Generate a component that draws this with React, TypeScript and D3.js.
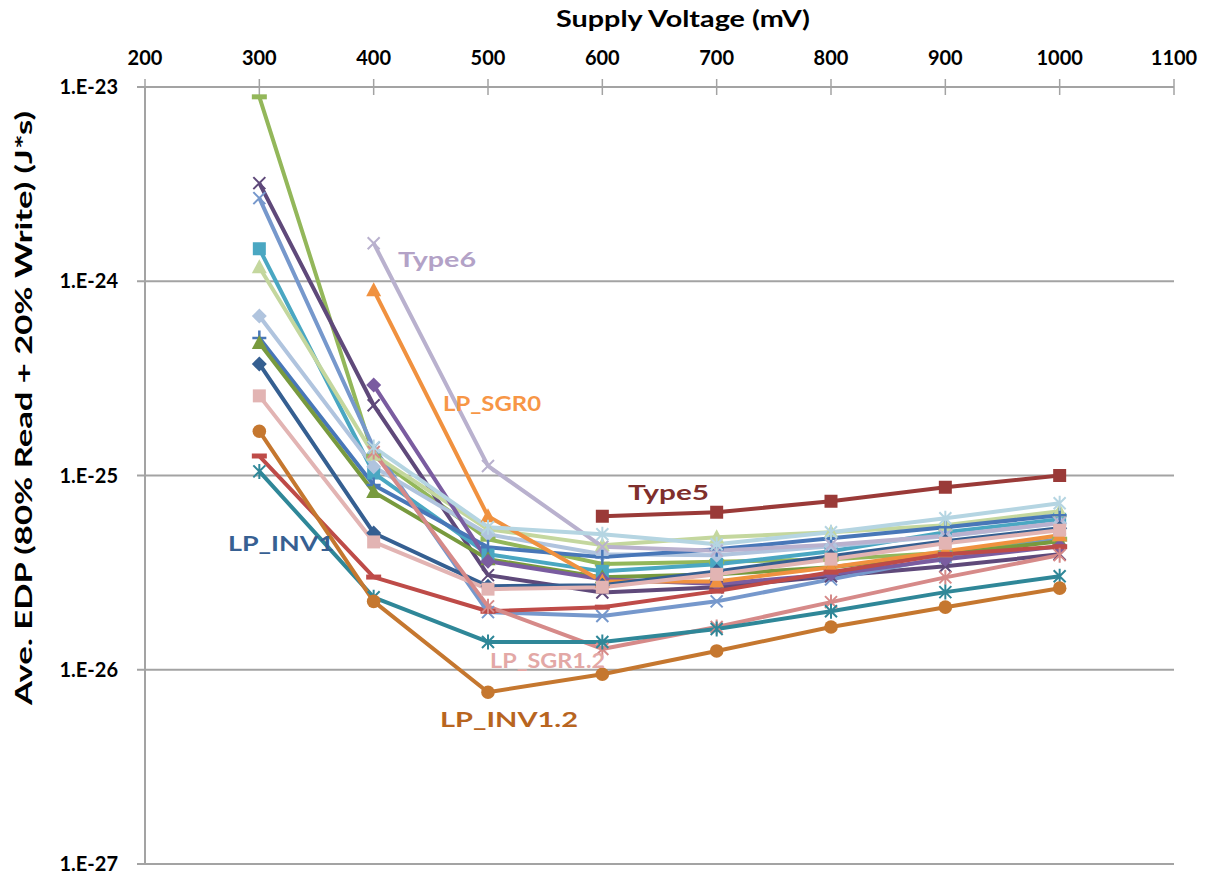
import React from 'react';
import * as d3 from 'd3';

// Supply voltage sweep (mV)
const voltages = [300, 400, 500, 600, 700, 800, 900, 1000];
const xTickValues = [200, 300, 400, 500, 600, 700, 800, 900, 1000, 1100];
const yTickValues = [1e-23, 1e-24, 1e-25, 1e-26, 1e-27];
const yTickLabels = ['1.E-23', '1.E-24', '1.E-25', '1.E-26', '1.E-27'];

// Average EDP (J*s) per cell type; null = no valid operating point
const oliveDash = [8.9e-24, 1.26e-25, 4.7e-26, 3.5e-26, 3.6e-26, 3.7e-26, 4.0e-26, 4.7e-26];
const darkPurpleX = [3.2e-24, 2.3e-25, 3.07e-26, 2.5e-26, 2.66e-26, 3.03e-26, 3.41e-26, 3.93e-26];
const mediumBlueX = [2.68e-24, 1.39e-25, 1.98e-26, 1.89e-26, 2.25e-26, 2.92e-26, 3.8e-26, 4.7e-26];
const aquaSquare = [1.47e-24, 1.03e-25, 3.93e-26, 3.21e-26, 3.49e-26, 4.07e-26, 5.1e-26, 5.95e-26];
const lightGreenTri = [1.18e-24, 1.28e-25, 5.29e-26, 4.38e-26, 4.81e-26, 5.1e-26, 5.55e-26, 6.55e-26];
const lightBlueDiamond = [6.62e-25, 1.11e-25, 4.98e-26, 3.93e-26, 3.89e-26, 4.32e-26, 4.87e-26, 5.68e-26];
const bluePlus = [5.1e-25, 8.94e-26, 4.27e-26, 3.8e-26, 4.17e-26, 4.75e-26, 5.42e-26, 6.24e-26];
const darkGreenTri = [4.81e-25, 8.22e-26, 3.71e-26, 2.99e-26, 3.1e-26, 3.37e-26, 3.93e-26, 4.59e-26];
const lpInv1 = [3.75e-25, 5.06e-26, 2.69e-26, 2.72e-26, 3.21e-26, 3.84e-26, 4.59e-26, 5.35e-26];
const pinkSquare = [2.57e-25, 4.55e-26, 2.6e-26, 2.66e-26, 3.1e-26, 3.71e-26, 4.48e-26, 5.23e-26];
const lpInv12 = [1.69e-25, 2.25e-26, 7.66e-27, 9.48e-27, 1.25e-26, 1.66e-26, 2.1e-26, 2.63e-26];
const redDash = [1.26e-25, 3.0e-26, 2.0e-26, 2.1e-26, 2.54e-26, 3.18e-26, 3.93e-26, 4.3e-26];
const tealStar = [1.05e-25, 2.36e-26, 1.39e-26, 1.39e-26, 1.62e-26, 2.0e-26, 2.51e-26, 3.03e-26];
const type6 = [null, 1.57e-24, 1.12e-25, 4.3e-26, 4.1e-26, 4.4e-26, 4.9e-26, 5.7e-26];
const lpSgr0 = [null, 9.0e-25, 6.17e-26, 2.85e-26, 2.85e-26, 3.37e-26, 4.07e-26, 4.92e-26];
const purpleDiamond = [null, 2.92e-25, 3.62e-26, 2.92e-26, 2.76e-26, 3.1e-26, 3.71e-26, 4.32e-26];
const lpSgr12 = [null, 1.32e-25, 2.12e-26, 1.28e-26, 1.66e-26, 2.23e-26, 2.99e-26, 3.89e-26];
const paleBlueStar = [null, 1.4e-25, 5.42e-26, 4.98e-26, 4.43e-26, 5.1e-26, 6.02e-26, 7.2e-26];
const type5 = [null, null, null, 6.17e-26, 6.47e-26, 7.37e-26, 8.7e-26, 1.0e-25];

type Marker = 'diamond' | 'square' | 'triangle' | 'circle' | 'x' | 'star' | 'plus' | 'dash';
interface Series { key: string; values: (number | null)[]; color: string; marker: Marker; }

const series: Series[] = [
  { key: 'oliveDash', values: oliveDash, color: '#93B75A', marker: 'dash' },
  { key: 'darkPurpleX', values: darkPurpleX, color: '#5F497A', marker: 'x' },
  { key: 'mediumBlueX', values: mediumBlueX, color: '#7698CC', marker: 'x' },
  { key: 'aquaSquare', values: aquaSquare, color: '#4AA7C2', marker: 'square' },
  { key: 'lightGreenTri', values: lightGreenTri, color: '#C4D79E', marker: 'triangle' },
  { key: 'lightBlueDiamond', values: lightBlueDiamond, color: '#B0C4DE', marker: 'diamond' },
  { key: 'bluePlus', values: bluePlus, color: '#4877B8', marker: 'plus' },
  { key: 'darkGreenTri', values: darkGreenTri, color: '#789A3E', marker: 'triangle' },
  { key: 'purpleDiamond', values: purpleDiamond, color: '#7A5CA0', marker: 'diamond' },
  { key: 'type6', values: type6, color: '#B9B1CE', marker: 'x' },
  { key: 'lpSgr0', values: lpSgr0, color: '#F0913F', marker: 'triangle' },
  { key: 'lpInv1', values: lpInv1, color: '#355F91', marker: 'diamond' },
  { key: 'pinkSquare', values: pinkSquare, color: '#E2B4B3', marker: 'square' },
  { key: 'redDash', values: redDash, color: '#BE4B48', marker: 'dash' },
  { key: 'lpSgr12', values: lpSgr12, color: '#D68A89', marker: 'star' },
  { key: 'tealStar', values: tealStar, color: '#2F8798', marker: 'star' },
  { key: 'lpInv12', values: lpInv12, color: '#C5772F', marker: 'circle' },
  { key: 'paleBlueStar', values: paleBlueStar, color: '#B5D5E2', marker: 'star' },
  { key: 'type5', values: type5, color: '#9A3A38', marker: 'square' },
];

// In-plot series callouts
const callouts = [
  { text: 'Type6', color: '#B3A2C7', x: 398, y: 267, w: 78 },
  { text: 'LP_SGR0', color: '#F79646', x: 443, y: 411, w: 98 },
  { text: 'Type5', color: '#7F2F2C', x: 628, y: 500, w: 81 },
  { text: 'LP_INV1', color: '#376092', x: 228, y: 551, w: 106 },
  { text: 'LP_SGR1.2', color: '#E3A8A6', x: 490, y: 668, w: 115 },
  { text: 'LP_INV1.2', color: '#B8651F', x: 440, y: 727, w: 138 },
];

const FONT = 'Lato, "Open Sans", sans-serif';

function MarkerShape({ type, color }: { type: Marker; color: string }) {
  switch (type) {
    case 'diamond':
      return <path d="M0,-7.5L7.5,0L0,7.5L-7.5,0Z" fill={color} />;
    case 'square':
      return <rect x={-6.5} y={-6.5} width={13} height={13} fill={color} />;
    case 'triangle':
      return <path d="M0,-8L7.5,6L-7.5,6Z" fill={color} />;
    case 'circle':
      return <circle r={6.8} fill={color} />;
    case 'x':
      return <path d="M-6,-6L6,6M-6,6L6,-6" stroke={color} strokeWidth={2} fill="none" />;
    case 'star':
      return <path d="M-6,-6L6,6M-6,6L6,-6M0,-7.5L0,7.5" stroke={color} strokeWidth={2} fill="none" />;
    case 'plus':
      return <path d="M-7,0L7,0M0,-7.5L0,7.5" stroke={color} strokeWidth={2.5} fill="none" />;
    case 'dash':
      return <rect x={-7.5} y={-2.5} width={15} height={5} fill={color} />;
  }
}

export default function App() {
  const width = 1215;
  const height = 878;
  const left = 145, right = 1174, top = 87, bottom = 864;

  const x = d3.scaleLinear().domain([200, 1100]).range([left, right]);
  const y = d3.scaleLog().domain([1e-23, 1e-27]).range([top, bottom]);

  const line = d3
    .line<[number, number | null]>()
    .defined((d) => d[1] != null)
    .x((d) => x(d[0]))
    .y((d) => y(d[1] as number));

  const gridColor = '#A3A3A3';

  return (
    <svg
      width={width}
      height={height}
      style={{ position: 'absolute', left: 0, top: 0, background: '#fff' }}
      fontFamily={FONT}
    >
      <rect width={width} height={height} fill="#fff" />

      {/* horizontal decade gridlines */}
      {yTickValues.map((v) => (
        <line key={'g' + v} x1={left} x2={right} y1={y(v)} y2={y(v)} stroke={gridColor} strokeWidth={2} />
      ))}
      {/* left axis */}
      <line x1={left} x2={left} y1={top} y2={bottom} stroke={gridColor} strokeWidth={2} />
      {yTickValues.map((v) => (
        <line key={'yt' + v} x1={left - 8} x2={left} y1={y(v)} y2={y(v)} stroke={gridColor} strokeWidth={2} />
      ))}
      {/* top axis ticks */}
      {xTickValues.map((v) => (
        <line key={'xt' + v} x1={x(v)} x2={x(v)} y1={top - 8} y2={top + 8} stroke={gridColor} strokeWidth={1.5} />
      ))}

      {/* axis labels */}
      {xTickValues.map((v) => (
        <text key={'xl' + v} x={x(v)} y={65} textAnchor="middle" fontSize={20} fontWeight={700} fill="#000">
          {v}
        </text>
      ))}
      {yTickValues.map((v, i) => (
        <text key={'yl' + v} x={118} y={y(v) + 7} textAnchor="end" fontSize={20} fontWeight={700} fill="#000">
          {yTickLabels[i]}
        </text>
      ))}
      <text x={683} y={27} textAnchor="middle" fontSize={22} fontWeight={700} fill="#000" textLength={254} lengthAdjust="spacingAndGlyphs">
        Supply Voltage (mV)
      </text>
      <text
        transform={`translate(32,408) rotate(-90)`}
        textAnchor="middle"
        fontSize={22}
        fontWeight={700}
        fill="#000"
        textLength={594}
        lengthAdjust="spacingAndGlyphs"
      >
        Ave. EDP (80% Read + 20% Write) (J*s)
      </text>

      {/* series lines */}
      {series.map((s) => (
        <path
          key={'l' + s.key}
          d={line(voltages.map((v, i) => [v, s.values[i]] as [number, number | null])) || ''}
          fill="none"
          stroke={s.color}
          strokeWidth={4}
          strokeLinejoin="round"
        />
      ))}
      {/* series markers */}
      {series.map((s) => (
        <g key={'m' + s.key}>
          {voltages.map((v, i) =>
            s.values[i] == null ? null : (
              <g key={v} transform={`translate(${x(v)},${y(s.values[i] as number)})`}>
                <MarkerShape type={s.marker} color={s.color} />
              </g>
            )
          )}
        </g>
      ))}

      {/* callouts */}
      {callouts.map((c) => (
        <text
          key={c.text}
          x={c.x}
          y={c.y}
          fontSize={20}
          fontWeight={700}
          fill={c.color}
          textLength={c.w}
          lengthAdjust="spacingAndGlyphs"
        >
          {c.text}
        </text>
      ))}
    </svg>
  );
}
